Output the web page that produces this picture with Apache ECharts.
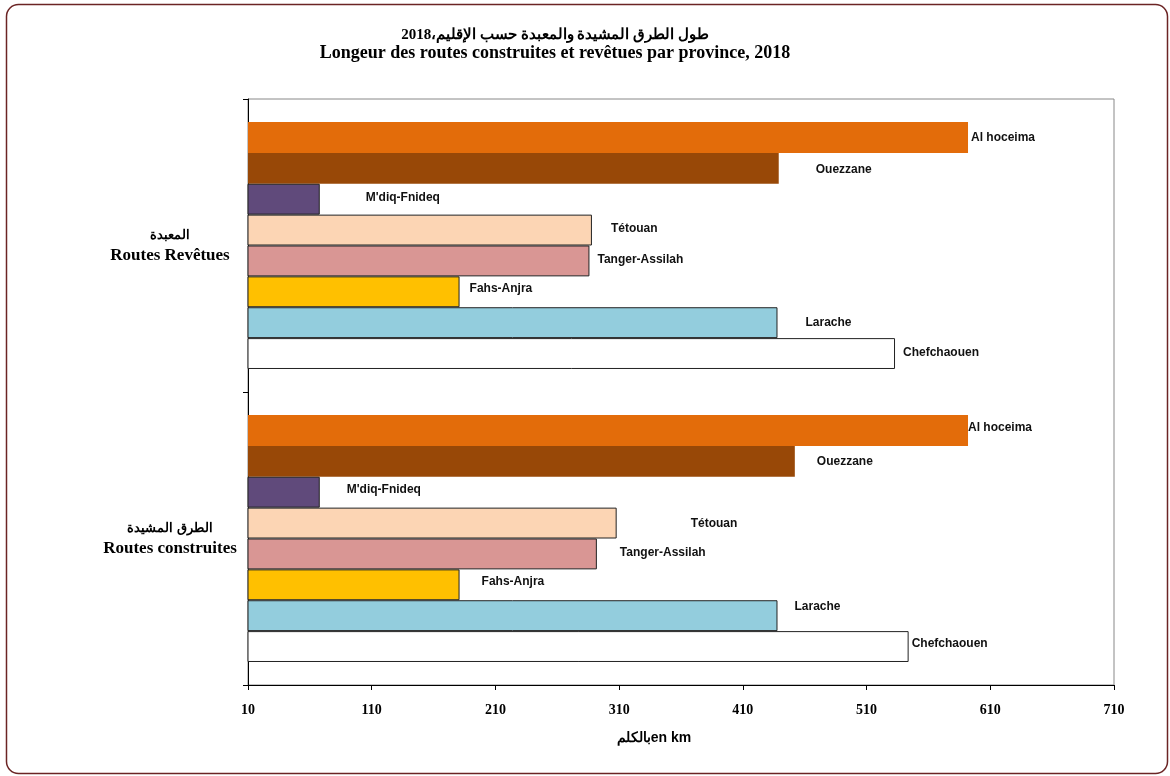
<!DOCTYPE html>
<html>
<head>
<meta charset="utf-8">
<script src="https://cdn.jsdelivr.net/npm/echarts@6/dist/echarts.min.js"></script>
<style>
  html, body { margin: 0; padding: 0; background: #fff; }
  #chart { width: 1170px; height: 776px; }
</style>
</head>
<body>
<div id="chart"></div>
<script>
// categories, bottom to top
const groups = ["الطرق المشيدة|Routes construites", "المعبدة|Routes Revêtues"];
// provinces, from the top bar of a group to the bottom one
const provinces = ["Al hoceima", "Ouezzane", "M'diq-Fnideq", "Tétouan", "Tanger-Assilah", "Fahs-Anjra", "Larache", "Chefchaouen"];
// km, [construites, revêtues]
const alHoceima = [592, 592];
const ouezzane = [452, 439];
const mdiqFnideq = [68, 68];
const tetouan = [308, 288];
const tangerAssilah = [292, 286];
const fahsAnjra = [181, 181];
const larache = [438, 438];
const chefchaouen = [544, 533];
const xTicks = [10, 710, 100]; // min, max, step

const values = [alHoceima, ouezzane, mdiqFnideq, tetouan, tangerAssilah, fahsAnjra, larache, chefchaouen];
const colors = ["#E36C0A", "#984807", "#604A7B", "#FCD5B4", "#D99694", "#FFC000", "#93CDDD", "#FFFFFF"];
const bordered = [false, false, true, true, true, true, true, true];
// hand-placed label offsets (the original labels were moved by hand), [construites, revêtues]
const labelShift = [
  [[0, -3], [3, 0]],
  [[22, 0], [37, 1]],
  [[27, -3], [46, -2]],
  [[74, 1], [19, -1]],
  [[23, -1], [8, -1]],
  [[22, -3], [10, -3]],
  [[17, -9], [28, 0]],
  [[3, -3], [8, -1]]
];

const myChart = echarts.init(document.getElementById("chart"));

const series = provinces.map((name, i) => ({
  name: name,
  type: "bar",
  barGap: "0%",
  barCategoryGap: "15.7%",
  itemStyle: {
    color: colors[i],
    borderColor: bordered[i] ? "#222" : colors[i],
    borderWidth: bordered[i] ? 1 : 0
  },
  data: values[i].map((v, j) => ({
    value: v,
    label: { offset: labelShift[i][j] }
  })),
  label: {
    show: true,
    position: "right",
    distance: 0,
    formatter: name,
    color: "#111",
    fontFamily: "Liberation Sans, Arial",
    fontWeight: "bold",
    fontSize: 12
  }
}));

const serif = "Liberation Serif, Times New Roman";

const option = {
  animation: false,
  backgroundColor: "#fff",
  title: {
    text: "{ar|طول الطرق المشيدة والمعبدة حسب الإقليم،2018}\n{fr|Longeur des routes construites et revêtues par province, 2018}",
    left: 550,
    top: 21,
    textAlign: "center",
    textStyle: {
      rich: {
        ar: { fontFamily: serif, fontWeight: "bold", fontSize: 15, lineHeight: 18, color: "#000" },
        fr: { fontFamily: serif, fontWeight: "bold", fontSize: 18, lineHeight: 18, color: "#000" }
      }
    }
  },
  graphic: [{
    type: "rect",
    shape: { x: 6.5, y: 4.5, width: 1161, height: 769, r: 12 },
    style: { fill: "none", stroke: "#6B2424", lineWidth: 1.5 },
    silent: true
  }],
  grid: {
    left: 248, right: 56, top: 99, bottom: 91,
    show: true, borderColor: "#888", borderWidth: 1
  },
  xAxis: {
    type: "value",
    min: xTicks[0],
    max: xTicks[1],
    interval: xTicks[2],
    splitLine: { show: false },
    axisLine: { show: true, lineStyle: { color: "#000", width: 1 } },
    axisTick: { show: true, length: 5, lineStyle: { color: "#000" } },
    axisLabel: {
      margin: 18,
      color: "#000",
      fontFamily: serif,
      fontWeight: "bold",
      fontSize: 14
    },
    name: "بالكلمen km",
    nameLocation: "middle",
    nameGap: 46,
    nameTextStyle: {
      color: "#000",
      fontFamily: "Liberation Sans, Arial",
      fontWeight: "bold",
      fontSize: 14,
      padding: [0, 54, 0, 0]
    }
  },
  yAxis: {
    type: "category",
    data: groups,
    axisLine: { show: true, lineStyle: { color: "#000", width: 1 } },
    axisTick: { show: true, length: 5, lineStyle: { color: "#000" } },
    axisLabel: {
      margin: 78,
      align: "center",
      formatter: (v) => {
        const parts = v.split("|");
        return "{ar|" + parts[0] + "}\n{fr|" + parts[1] + "}";
      },
      rich: {
        ar: { fontFamily: serif, fontWeight: "bold", fontSize: 13, lineHeight: 20, color: "#000" },
        fr: { fontFamily: serif, fontWeight: "bold", fontSize: 17, lineHeight: 20, color: "#000" }
      }
    }
  },
  series: series
};

option && myChart.setOption(option);
</script>
</body>
</html>
